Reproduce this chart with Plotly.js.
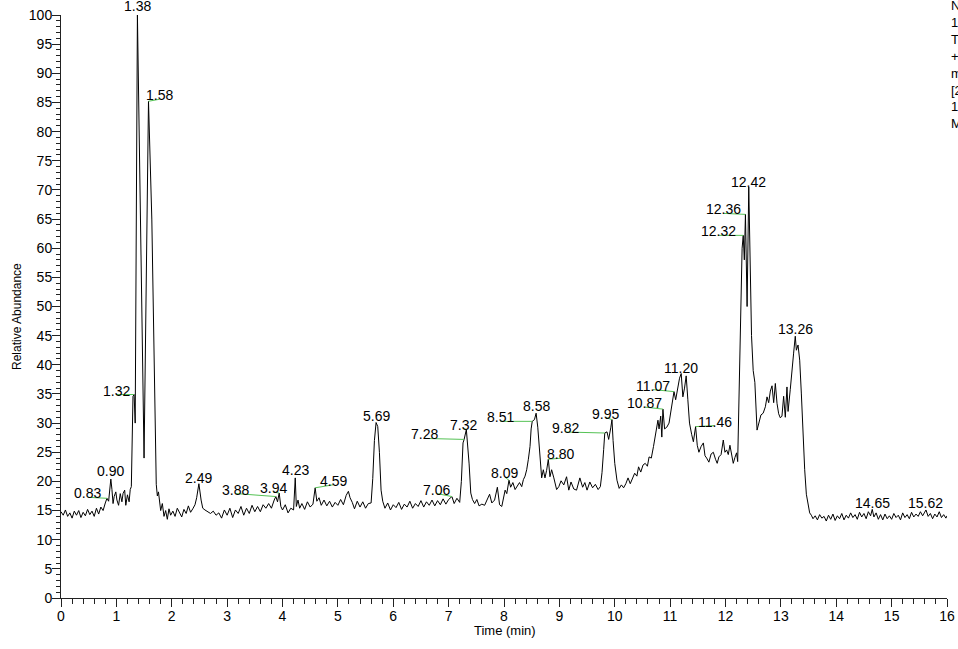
<!DOCTYPE html>
<html>
<head>
<meta charset="utf-8">
<script src="https://cdn.plot.ly/plotly-3.0.1.min.js"></script>
<style>
html,body{margin:0;padding:0;background:#fff;overflow:hidden;}
#chart{width:958px;height:649px;}
</style>
</head>
<body>
<div id="chart"></div>
<script>
// ---- data: retention time (min) and relative abundance (%) ----
const timeMin = [
0.00,0.04,0.08,0.12,0.16,0.20,0.24,0.28,0.32,0.36,0.40,0.44,0.48,0.52,0.56,0.60,0.64,0.68,0.72,0.76,
0.80,0.83,0.86,0.88,0.90,0.92,0.94,0.96,0.99,1.01,1.04,1.07,1.10,1.12,1.15,1.17,1.20,1.23,1.25,1.27,
1.30,1.32,1.34,1.38,1.50,1.58,1.64,1.72,1.74,1.76,1.78,1.80,1.83,1.86,1.89,1.92,1.95,1.98,2.02,2.06,
2.10,2.14,2.18,2.22,2.26,2.30,2.34,2.38,2.42,2.45,2.49,2.53,2.56,2.60,2.65,2.70,2.75,2.80,2.85,2.90,
2.95,3.00,3.05,3.10,3.15,3.20,3.25,3.30,3.35,3.40,3.45,3.50,3.55,3.60,3.65,3.70,3.75,3.80,3.85,3.88,
3.91,3.94,3.97,4.00,4.05,4.10,4.15,4.20,4.23,4.25,4.28,4.31,4.35,4.40,4.45,4.50,4.55,4.59,4.62,4.66,
4.70,4.75,4.80,4.85,4.90,4.95,5.00,5.05,5.10,5.15,5.19,5.22,5.26,5.30,5.35,5.40,5.45,5.50,5.55,5.60,
5.63,5.66,5.69,5.72,5.75,5.78,5.81,5.85,5.90,5.95,6.00,6.05,6.10,6.15,6.20,6.25,6.30,6.35,6.40,6.45,
6.50,6.55,6.60,6.65,6.70,6.75,6.80,6.85,6.90,6.95,7.00,7.06,7.10,7.15,7.20,7.23,7.26,7.28,7.32,7.34,
7.37,7.40,7.43,7.47,7.51,7.55,7.60,7.65,7.71,7.74,7.78,7.83,7.88,7.92,7.96,8.02,8.05,8.09,8.12,8.16,
8.20,8.24,8.28,8.32,8.35,8.38,8.41,8.44,8.47,8.49,8.51,8.55,8.58,8.61,8.64,8.68,8.71,8.74,8.77,8.80,
8.83,8.86,8.90,8.95,8.99,9.03,9.08,9.13,9.17,9.21,9.26,9.31,9.37,9.42,9.46,9.50,9.55,9.60,9.65,9.70,
9.74,9.77,9.80,9.82,9.86,9.89,9.93,9.95,9.97,10.00,10.04,10.08,10.12,10.16,10.20,10.24,10.28,10.32,10.36,10.40,
10.43,10.47,10.51,10.55,10.59,10.62,10.66,10.70,10.74,10.78,10.80,10.83,10.85,10.87,10.90,10.94,10.98,11.02,11.05,11.07,
11.10,11.14,11.17,11.20,11.23,11.26,11.29,11.32,11.35,11.39,11.42,11.46,11.49,11.52,11.56,11.60,11.63,11.66,11.70,11.74,
11.78,11.82,11.85,11.88,11.92,11.96,11.99,12.02,12.05,12.08,12.11,12.14,12.17,12.20,12.22,12.26,12.30,12.32,12.34,12.36,
12.39,12.42,12.47,12.50,12.53,12.57,12.60,12.64,12.68,12.72,12.75,12.78,12.81,12.84,12.87,12.90,12.93,12.96,12.99,13.02,
13.05,13.08,13.11,13.13,13.17,13.20,13.23,13.26,13.28,13.31,13.34,13.37,13.40,13.43,13.46,13.49,13.52,13.55,13.58,13.62,
13.66,13.70,13.74,13.78,13.82,13.86,13.90,13.94,13.98,14.02,14.06,14.10,14.14,14.18,14.22,14.26,14.30,14.34,14.38,14.42,
14.46,14.50,14.54,14.58,14.62,14.65,14.68,14.72,14.76,14.80,14.84,14.88,14.92,14.96,15.00,15.04,15.08,15.12,15.16,15.20,
15.24,15.28,15.32,15.36,15.40,15.44,15.48,15.52,15.56,15.59,15.62,15.66,15.70,15.74,15.78,15.82,15.86,15.90,15.94,15.98,
16.00
];
const abundance = [
14.8,14.2,15.1,14.0,14.6,13.7,14.9,14.2,15.0,13.8,14.7,14.1,15.2,14.3,14.9,14.0,15.4,14.4,15.6,15.0,
16.3,17.1,16.6,18.4,20.4,18.6,16.2,17.4,18.2,16.8,15.9,17.9,16.5,17.9,18.5,15.9,17.7,16.5,18.6,19.1,
34.6,34.9,30.0,100,24.0,85.2,65.0,19.5,17.5,18.2,16.0,15.0,16.2,14.0,15.0,13.5,15.3,14.2,14.9,14.0,
15.4,14.6,13.9,15.2,14.5,15.8,14.7,15.3,16.0,17.2,19.6,16.8,15.4,15.1,14.8,14.5,14.9,14.2,14.6,13.7,
15.1,14.2,15.4,13.8,15.1,14.5,15.7,14.2,15.4,14.5,15.9,14.8,15.7,14.8,16.0,15.4,16.2,15.4,16.8,17.4,
16.5,18.0,15.7,15.1,16.0,14.6,15.4,15.1,20.6,15.7,16.8,15.4,16.2,15.2,16.5,15.6,16.1,18.9,16.6,17.2,
15.9,16.8,15.8,16.6,15.6,16.4,15.9,16.9,16.0,17.6,18.3,17.2,16.4,15.3,16.6,15.6,16.5,15.4,16.2,16.3,
20.5,27.0,30.1,29.4,25.0,18.5,16.6,15.4,16.3,15.1,16.0,15.5,16.4,15.2,16.1,15.6,16.6,15.4,16.2,15.7,
16.7,15.6,16.5,15.9,16.8,15.8,16.7,16.0,17.0,16.1,16.9,17.4,16.2,17.1,16.4,20.0,26.6,27.2,28.9,26.8,
23.0,18.0,16.9,16.2,16.9,15.8,16.1,15.9,17.4,17.8,16.3,16.8,19.0,16.0,15.7,18.5,17.9,20.2,19.0,19.8,
18.6,19.1,19.8,19.1,20.3,20.9,22.0,23.8,26.0,29.0,30.3,30.6,31.7,29.3,24.9,20.6,22.0,20.6,21.9,23.8,
20.8,22.0,20.6,18.6,19.1,20.1,19.4,20.8,18.5,19.9,18.7,18.5,20.6,19.0,19.8,18.5,19.9,18.9,19.5,18.6,
19.1,21.5,25.5,28.3,28.5,27.2,29.3,30.6,27.0,23.1,20.2,18.8,19.4,18.9,19.6,20.6,19.6,20.6,21.4,20.9,
22.5,21.6,22.8,23.1,22.6,24.2,24.0,26.0,28.5,30.5,29.0,31.2,27.6,32.4,29.0,29.3,30.0,32.8,34.0,35.4,
34.0,36.0,37.7,38.5,34.5,36.0,38.1,34.0,30.0,28.0,26.8,29.4,26.2,25.0,26.0,26.6,24.4,24.0,23.3,24.7,
25.0,23.8,23.1,24.2,24.6,27.1,25.0,25.4,24.6,26.2,24.8,23.1,24.1,24.9,23.4,42.0,60.0,62.2,58.0,65.8,
50.0,70.5,45.0,39.0,37.0,28.8,29.8,31.4,31.7,32.8,34.5,33.5,35.5,36.4,33.5,36.8,33.4,31.6,30.9,31.2,
34.6,31.0,36.2,32.0,35.8,39.5,42.0,44.9,42.5,43.4,40.8,35.0,28.0,22.0,17.8,16.5,14.6,14.2,13.6,14.1,
13.4,14.3,13.7,14.0,13.2,14.2,13.5,14.4,13.3,14.1,13.6,14.5,13.4,14.2,13.7,14.6,13.8,14.3,13.5,14.7,
13.9,14.5,13.6,14.8,14.1,15.2,13.9,14.6,13.5,14.3,13.4,14.4,13.6,14.1,13.5,14.5,13.8,14.2,13.4,14.6,
13.8,14.3,13.6,14.7,13.9,14.4,14.0,14.8,14.1,14.6,15.1,14.0,14.5,13.6,14.4,13.9,14.8,13.8,14.3,13.7,
14.1
];

// ---- labelled peaks (retention times as printed) ----
const peakTimes = [0.83,0.90,1.32,1.38,1.58,2.49,3.88,3.94,4.23,4.59,5.69,7.06,7.28,7.32,8.09,8.51,8.58,8.80,
  9.82,9.95,10.87,11.07,11.20,11.46,12.32,12.36,12.42,13.26,14.65,15.62];
const peakLabels = ["0.83","0.90","1.32","1.38","1.58","2.49","3.88","3.94","4.23","4.59","5.69","7.06","7.28","7.32",
  "8.09","8.51","8.58","8.80","9.82","9.95","10.87","11.07","11.20","11.46","12.32","12.36","12.42","13.26","14.65","15.62"];

// label placement (pixel offsets of the label's bottom-centre from its peak; negative dy = upwards)
const labelDx = [-19,0,-18,0,11,0,-40,-6,0,18,0,-15,-40,-3,-4,-32,0,12,-39,-6,-18,-21,0,19,-25,-22,0,0,0,0];
const labelDy = [-1,-4,0,-5,-2,-2,-3,-1,-4,-3,-3,-3,-1,-1,-3,0,-3,-1,-1,-2,-2,-2,-2,-1,0,-1,-1,-3,-2,-3];

const headerLines = ["NL:","1.48E9","TIC F:","+ c ESI Full","ms","[200.00-2000.00]","13","MS"];
const xTitle = "Time (min)";
const yTitle = "Relative Abundance";

function valueAt(t){
  let best = 0, bd = 1e9;
  for (let i=0;i<timeMin.length;i++){ const d=Math.abs(timeMin[i]-t); if(d<bd){bd=d;best=i;} }
  return abundance[best];
}

const FONT = 'Arial, "Liberation Sans", sans-serif';
const annotations = [];
const shapes = [];
peakTimes.forEach((t,i)=>{
  const v = valueAt(t);
  const dx = labelDx[i], dy = labelDy[i];
  annotations.push({
    x:t, y:v, xref:'x', yref:'y', text:peakLabels[i], showarrow:false,
    xanchor:'center', yanchor:'bottom', xshift:dx, yshift:-dy-4,
    font:{family:FONT, size:14, color:'#000'}, borderpad:0, borderwidth:0
  });
  if (dx !== 0) {
    shapes.push({
      type:'line', xref:'x', yref:'y', xsizemode:'pixel', ysizemode:'pixel',
      xanchor:t, yanchor:v, x0:dx, y0:-dy, x1:0, y1:0,
      line:{color:'#55c255', width:1}
    });
  }
});
annotations.push({
  xref:'paper', yref:'paper', x:1.003, y:1.031, xanchor:'left', yanchor:'top',
  align:'left', showarrow:false, text:headerLines.join('<br>'),
  font:{family:FONT, size:13, color:'#000'}, borderpad:0
});
annotations.push({
  xref:'paper', yref:'paper', x:0.501, y:-0.0555, xanchor:'center', yanchor:'middle',
  showarrow:false, text:xTitle, font:{family:FONT, size:13, color:'#000'}
});
annotations.push({
  xref:'paper', yref:'paper', x:-0.0497, y:0.4837, xanchor:'center', yanchor:'middle',
  textangle:-90, showarrow:false, text:yTitle, font:{family:FONT, size:12, color:'#000'}
});

const axisCommon = {
  showline:true, linecolor:'#222', linewidth:1, showgrid:false, zeroline:false,
  ticks:'outside', tickcolor:'#222', tickwidth:1,
  tickfont:{family:FONT, size:14, color:'#000'}
};

const layout = {
  width:958, height:649,
  margin:{l:61, r:11, t:15, b:51},
  paper_bgcolor:'#fff', plot_bgcolor:'#fff',
  showlegend:false,
  xaxis: Object.assign({}, axisCommon, {
    range:[0,16], tick0:0, dtick:1, ticklen:8, ticklabelstandoff:-3,
    minor:{dtick:0.2, ticks:'outside', ticklen:5, tickcolor:'#222', tickwidth:1, showgrid:false}
  }),
  yaxis: Object.assign({}, axisCommon, {
    range:[0,100], tick0:0, dtick:5, ticklen:8, ticklabelstandoff:-3,
    minor:{dtick:1, ticks:'outside', ticklen:4, tickcolor:'#222', tickwidth:1, showgrid:false}
  }),
  annotations: annotations,
  shapes: shapes
};

Plotly.newPlot('chart', [{
  x: timeMin, y: abundance, type:'scatter', mode:'lines',
  line:{color:'#000', width:1}, hoverinfo:'skip', cliponaxis:true
}], layout, {staticPlot:true, displayModeBar:false});
</script>
</body>
</html>
